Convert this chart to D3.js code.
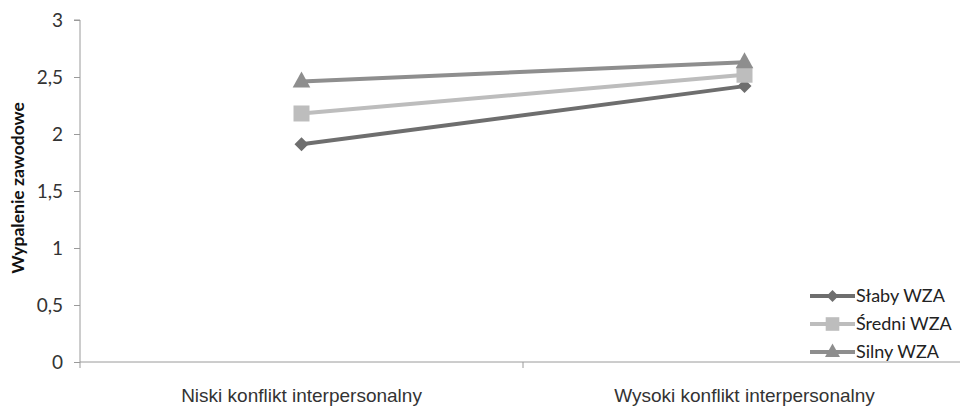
<!DOCTYPE html>
<html>
<head>
<meta charset="utf-8">
<script src="https://cdn.jsdelivr.net/npm/d3@7"></script>
<style>
  html, body { margin: 0; padding: 0; background: #fff; }
  svg { display: block; }
</style>
</head>
<body>
<svg id="chart" width="960" height="408"></svg>
<script>
// Burnout by level of interpersonal conflict, split by strength of WZA
const categories = ["Niski konflikt interpersonalny", "Wysoki konflikt interpersonalny"];
const seriesNames = ["Słaby WZA", "Średni WZA", "Silny WZA"];
const slabyValues = [1.91, 2.42];
const sredniValues = [2.18, 2.52];
const silnyValues = [2.46, 2.63];
const yTicks = [0, 0.5, 1, 1.5, 2, 2.5, 3];
const yTitle = "Wypalenie zawodowe";

const series = [
  { name: seriesNames[0], values: slabyValues, color: "#6e6e6e", shape: "diamond" },
  { name: seriesNames[1], values: sredniValues, color: "#bdbdbd", shape: "square" },
  { name: seriesNames[2], values: silnyValues, color: "#8e8e8e", shape: "triangle" }
];

const svg = d3.select("#chart");
const plotLeft = 80, plotRight = 966, plotTop = 20, plotBottom = 362;
const axisColor = "#9a9a9a";
const font = "Lato, 'Open Sans', sans-serif";

const x = d3.scaleBand().domain(categories).range([plotLeft, plotRight]).padding(0);
const y = d3.scaleLinear().domain([0, 3]).range([plotBottom, plotTop]);

// Y axis
const yAxis = svg.append("g").attr("transform", `translate(${plotLeft},0)`)
  .call(d3.axisLeft(y).tickValues(yTicks).tickSize(6).tickPadding(11)
    .tickFormat(d => String(d).replace(".", ",")));
yAxis.select(".domain").attr("stroke", axisColor).attr("d", `M-6,${plotTop}H0V${plotBottom}`);
yAxis.selectAll(".tick line").attr("stroke", axisColor);
yAxis.selectAll(".tick text").attr("fill", "#333").style("font-family", font).style("font-size", "19px");

// X axis
const xAxis = svg.append("g").attr("transform", `translate(0,${plotBottom})`)
  .call(d3.axisBottom(x).tickSize(0).tickPadding(27));
xAxis.select(".domain").attr("stroke", axisColor).attr("d", `M${plotLeft},0H${plotRight}`);
xAxis.selectAll(".tick text").attr("fill", "#333")
  .style("font-family", "'Liberation Sans Narrow', 'Arial Narrow', sans-serif").style("font-size", "19px");
// category boundary ticks
const bounds = [plotLeft, plotLeft + x.bandwidth(), plotRight];
svg.append("g").selectAll("line").data(bounds).join("line")
  .attr("x1", d => d).attr("x2", d => d)
  .attr("y1", plotBottom).attr("y2", plotBottom + 6)
  .attr("stroke", axisColor);

// Y title
svg.append("text")
  .attr("transform", `translate(24,188) rotate(-90)`)
  .attr("text-anchor", "middle")
  .attr("fill", "#111")
  .style("font-family", font).style("font-weight", "bold").style("font-size", "17.5px")
  .text(yTitle);

// Marker paths
function marker(shape, s) {
  if (shape === "diamond") return `M0,${-s}L${s},0L0,${s}L${-s},0Z`;
  if (shape === "square") return `M${-s},${-s}H${s}V${s}H${-s}Z`;
  return `M0,${-s * 1.25}L${s * 1.1},${s * 0.75}H${-s * 1.1}Z`;
}
const markerSize = { diamond: 7, square: 8, triangle: 8 };

const cx = c => x(c) + x.bandwidth() / 2;
const line = d3.line().x((d, i) => cx(categories[i])).y(d => y(d));

series.forEach(s => {
  const g = svg.append("g");
  g.append("path").attr("d", line(s.values))
    .attr("fill", "none").attr("stroke", s.color).attr("stroke-width", 4);
  g.selectAll("path.m").data(s.values).join("path").attr("class", "m")
    .attr("transform", (d, i) => `translate(${cx(categories[i])},${y(d)})`)
    .attr("d", marker(s.shape, markerSize[s.shape]))
    .attr("fill", s.color);
});

// Legend
const legend = svg.append("g").attr("transform", "translate(810,296)");
series.forEach((s, i) => {
  const g = legend.append("g").attr("transform", `translate(0,${i * 28})`);
  g.append("line").attr("x1", 0).attr("x2", 45).attr("y1", 0).attr("y2", 0)
    .attr("stroke", s.color).attr("stroke-width", 4);
  g.append("path").attr("transform", "translate(22.5,0)")
    .attr("d", marker(s.shape, markerSize[s.shape] * 0.85)).attr("fill", s.color);
  g.append("text").attr("x", 46).attr("y", 0).attr("dy", "0.35em")
    .attr("fill", "#222").style("font-family", font).style("font-size", "18px")
    .text(s.name);
});
</script>
</body>
</html>
